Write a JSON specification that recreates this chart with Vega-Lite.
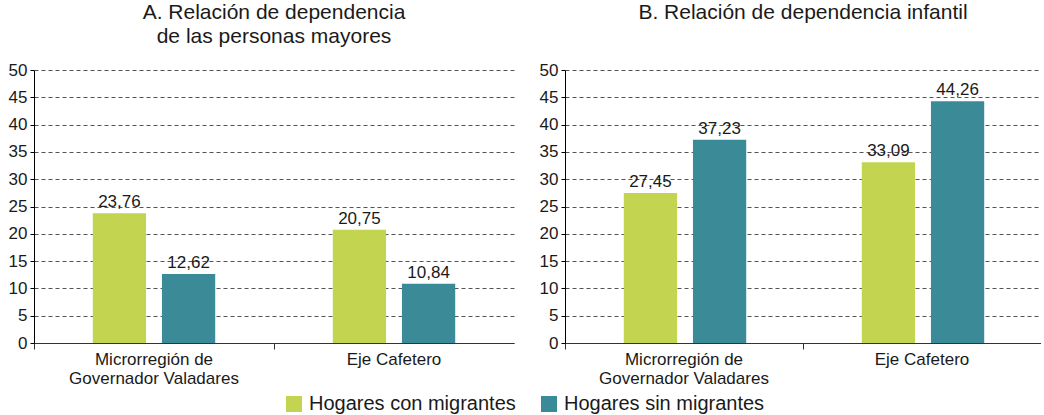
{
  "$schema": "https://vega.github.io/schema/vega-lite/v6.json",
  "autosize": {"type": "pad"},
  "padding": {"left": 8, "top": 2, "right": 0, "bottom": 2},
  "background": "white",
  "config": {
    "font": "Liberation Sans",
    "view": {"stroke": null},
    "locale": {"number": {"decimal": ",", "thousands": ".", "grouping": [3], "currency": ["", ""]}},
    "legend": {"layout": {"bottom": {"anchor": "middle", "direction": "horizontal"}}},
    "title": {"fontSize": 21, "fontWeight": "normal", "color": "#1a1a1a", "lineHeight": 24}
  },
  "data": {"values": [
    {"panel": "A", "region": "Microrregión de Governador Valadares", "grupo": "Hogares con migrantes", "valor": 23.76},
    {"panel": "A", "region": "Microrregión de Governador Valadares", "grupo": "Hogares sin migrantes", "valor": 12.62},
    {"panel": "A", "region": "Eje Cafetero", "grupo": "Hogares con migrantes", "valor": 20.75},
    {"panel": "A", "region": "Eje Cafetero", "grupo": "Hogares sin migrantes", "valor": 10.84},
    {"panel": "B", "region": "Microrregión de Governador Valadares", "grupo": "Hogares con migrantes", "valor": 27.45},
    {"panel": "B", "region": "Microrregión de Governador Valadares", "grupo": "Hogares sin migrantes", "valor": 37.23},
    {"panel": "B", "region": "Eje Cafetero", "grupo": "Hogares con migrantes", "valor": 33.09},
    {"panel": "B", "region": "Eje Cafetero", "grupo": "Hogares sin migrantes", "valor": 44.26}
  ]},
  "bounds": "flush",
  "spacing": 51,
  "resolve": {"scale": {"color": "shared"}},
  "hconcat": [
    {
      "title": {"text": ["A. Relación de dependencia", "de las personas mayores"], "offset": 14},
      "width": 480,
      "height": 273,
      "transform": [{"filter": "datum.panel == 'A'"}],
      "encoding": {
        "x": {"field": "region", "type": "nominal", "sort": null,
              "scale": {"paddingInner": 0, "paddingOuter": 0},
              "axis": {"title": null, "labelAngle": 0, "bandPosition": 0, "labelFontSize": 17, "labelColor": "#1a1a1a",
                       "domainColor": "#333", "tickColor": "#333", "tickSize": 6, "labelPadding": 2, "labelLineHeight": 19,
                       "labelExpr": "datum.value == 'Microrregión de Governador Valadares' ? ['Microrregión de', 'Governador Valadares'] : datum.label"}},
        "xOffset": {"field": "grupo", "type": "nominal", "sort": null,
                    "scale": {"paddingInner": 0.23, "paddingOuter": 0.85}},
        "y": {"field": "valor", "type": "quantitative",
              "scale": {"domain": [0, 50]},
              "axis": {"title": null, "values": [0,5,10,15,20,25,30,35,40,45,50], "labelFontSize": 17, "labelColor": "#1a1a1a",
                       "domainColor": "#000", "tickColor": "#000", "tickSize": 4, "labelPadding": 3,
                       "grid": true, "gridDash": [4, 3], "gridColor": "#555", "gridWidth": 1}}
      },
      "layer": [
        {"mark": {"type": "bar"},
         "encoding": {"color": {"field": "grupo", "type": "nominal", "sort": null,
            "scale": {"domain": ["Hogares con migrantes", "Hogares sin migrantes"], "range": ["#c2d450", "#3a8b97"]},
            "legend": {"orient": "bottom", "direction": "horizontal", "title": null, "symbolType": "square", "symbolSize": 256,
                       "symbolStrokeWidth": 0, "labelFontSize": 20, "labelLimit": 0, "labelColor": "#1a1a1a", "columnPadding": 23, "labelOffset": 5, "offset": 8}}}},
        {"mark": {"type": "text", "dy": -11, "fontSize": 17, "color": "#1a1a1a"},
         "encoding": {"text": {"field": "valor", "type": "quantitative", "format": ".2f"}}}
      ]
    },
    {
      "title": {"text": "B. Relación de dependencia infantil", "offset": 38},
      "width": 476,
      "height": 273,
      "transform": [{"filter": "datum.panel == 'B'"}],
      "encoding": {
        "x": {"field": "region", "type": "nominal", "sort": null,
              "scale": {"paddingInner": 0, "paddingOuter": 0},
              "axis": {"title": null, "labelAngle": 0, "bandPosition": 0, "labelFontSize": 17, "labelColor": "#1a1a1a",
                       "domainColor": "#333", "tickColor": "#333", "tickSize": 6, "labelPadding": 2, "labelLineHeight": 19,
                       "labelExpr": "datum.value == 'Microrregión de Governador Valadares' ? ['Microrregión de', 'Governador Valadares'] : datum.label"}},
        "xOffset": {"field": "grupo", "type": "nominal", "sort": null,
                    "scale": {"paddingInner": 0.23, "paddingOuter": 0.85}},
        "y": {"field": "valor", "type": "quantitative",
              "scale": {"domain": [0, 50]},
              "axis": {"title": null, "values": [0,5,10,15,20,25,30,35,40,45,50], "labelFontSize": 17, "labelColor": "#1a1a1a",
                       "domainColor": "#000", "tickColor": "#000", "tickSize": 4, "labelPadding": 3,
                       "grid": true, "gridDash": [4, 3], "gridColor": "#555", "gridWidth": 1}}
      },
      "layer": [
        {"mark": {"type": "bar"},
         "encoding": {"color": {"field": "grupo", "type": "nominal", "sort": null,
            "scale": {"domain": ["Hogares con migrantes", "Hogares sin migrantes"], "range": ["#c2d450", "#3a8b97"]},
            "legend": {"orient": "bottom", "direction": "horizontal", "title": null, "symbolType": "square", "symbolSize": 256,
                       "symbolStrokeWidth": 0, "labelFontSize": 20, "labelLimit": 0, "labelColor": "#1a1a1a", "columnPadding": 23, "labelOffset": 5, "offset": 8}}}},
        {"mark": {"type": "text", "dy": -11, "fontSize": 17, "color": "#1a1a1a"},
         "encoding": {"text": {"field": "valor", "type": "quantitative", "format": ".2f"}}}
      ]
    }
  ]
}
